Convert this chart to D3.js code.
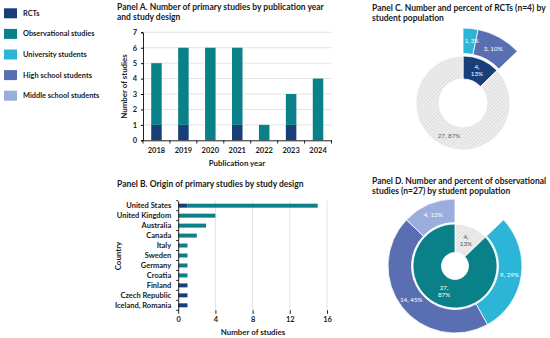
<!DOCTYPE html>
<html><head><meta charset="utf-8">
<script src="https://cdn.jsdelivr.net/npm/d3@7"></script>
<style>
body{margin:0;background:#fff}
svg{display:block}
text{font-family:Lato,"Open Sans",sans-serif}
</style>
</head><body>
<svg id="c" width="550" height="338"></svg>
<script>
// ---------- data ----------
const legendLabels = ["RCTs","Observational studies","University students","High school students","Middle school students"];
const years = ["2018","2019","2020","2021","2022","2023","2024"];
const rctByYear = [1,1,0,1,0,1,0];
const obsByYear = [4,5,6,5,1,2,4];
const yTicksA = [0,1,2,3,4,5,6,7];
const countries = ["United States","United Kingdom","Australia","Canada","Italy","Sweden","Germany","Croatia","Finland","Czech Republic","Iceland, Romania"];
const rctByCountry = [1,0,0,0,0,0,0,0,1,1,1];
const obsByCountry = [14,4,3,2,1,1,1,1,0,0,0];
const xTicksB = [0,4,8,12,16];
const totalStudies = 31;
// Panel C: inner ring (design), outer ring (RCT populations)
const cInnerKeys = ["RCTs","Observational"];
const cInnerVals = [4,27];
const cOuterKeys = ["University students","High school students","rest"];
const cOuterVals = [1,3,27];
// Panel D: inner ring (design), outer ring (observational populations)
const dInnerKeys = ["RCTs","Observational"];
const dInnerVals = [4,27];
const dOuterKeys = ["rest","University students","High school students","Middle school students"];
const dOuterVals = [4,9,14,4];

// ---------- styles ----------
const col = {
  "RCTs":"#183f7a",
  "Observational studies":"#0a8189",
  "University students":"#2cb5d6",
  "High school students":"#5a6fb2",
  "Middle school students":"#9baddd"
};
const ink = "#1a1a1a";

const svg = d3.select("#c");
const defs = svg.append("defs");
const pat = defs.append("pattern").attr("id","hatch").attr("patternUnits","userSpaceOnUse")
  .attr("width",2.6).attr("height",2.6).attr("patternTransform","rotate(45)");
pat.append("rect").attr("width",2.6).attr("height",2.6).attr("fill","#eeeeee");
pat.append("line").attr("x1",0).attr("y1",0).attr("x2",0).attr("y2",2.6).attr("stroke","#c6c6c6").attr("stroke-width",0.8);

// ---------- legend ----------
const lg = svg.append("g");
legendLabels.forEach((l,i)=>{
  const cy = 13.3 + i*20.6;
  lg.append("rect").attr("x",4).attr("y",cy-5).attr("width",13).attr("height",10).attr("fill",col[l]);
  lg.append("text").attr("x",23).attr("y",cy).attr("dy","0.35em").attr("font-size",7.4).attr("font-weight",700).attr("fill",ink).text(l);
});

function title(x,y,lines){
  const t = svg.append("text").attr("x",x).attr("y",y).attr("font-size",8.5).attr("font-weight",700).attr("fill",ink);
  lines.forEach((s,i)=>t.append("tspan").attr("x",x).attr("dy",i?10:0).text(s));
}
function styleTicks(sel){
  sel.selectAll("text").attr("font-size",7.5).attr("font-weight",700).attr("fill",ink).attr("font-family","Lato");
}

// ---------- Panel A ----------
title(117,9.8,["Panel A. Number of primary studies by publication year","and study design"]);
const xA = d3.scaleBand().domain(years).range([143,331.5]).paddingInner(0.61).paddingOuter(0.305);
const yA = d3.scaleLinear().domain([0,7]).range([140.3,32.3]);
const gA = svg.append("g");
gA.selectAll("line.grid").data(yTicksA.slice(1)).join("line")
  .attr("x1",143).attr("x2",331.5).attr("y1",d=>yA(d)).attr("y2",d=>yA(d))
  .attr("stroke","#dcdcdc").attr("stroke-width",0.8);
const dataA = years.map((y,i)=>({year:y,rct:rctByYear[i],obs:obsByYear[i]}));
const stackA = d3.stack().keys(["rct","obs"])(dataA);
gA.selectAll("g.s").data(stackA).join("g").attr("fill",d=>d.key==="rct"?col["RCTs"]:col["Observational studies"])
  .selectAll("rect").data(d=>d).join("rect")
  .attr("x",d=>xA(d.data.year)).attr("width",xA.bandwidth())
  .attr("y",d=>yA(d[1])).attr("height",d=>yA(d[0])-yA(d[1]));
const axA = gA.append("g").attr("transform","translate(143,0)")
  .call(d3.axisLeft(yA).tickValues(yTicksA).tickFormat(d3.format("d")).tickSize(2).tickPadding(4));
axA.select(".domain").attr("stroke","#222");
styleTicks(axA);
// x axis
const axXA = gA.append("g").attr("transform","translate(0,140.3)")
  .call(d3.axisBottom(xA).tickSize(0).tickPadding(7));
axXA.select(".domain").attr("stroke","#222");
styleTicks(axXA);
d3.range(years.length+1).forEach(i=>{
  const x = xA.range()[0] + i*xA.step();
  gA.append("line").attr("x1",x).attr("x2",x).attr("y1",140.3).attr("y2",143.5).attr("stroke","#222");
});
gA.append("text").attr("x",237).attr("y",165.5).attr("text-anchor","middle").attr("font-size",7.9).attr("font-weight",700).attr("fill",ink).text("Publication year");
gA.append("text").attr("transform","translate(127,86.5) rotate(-90)").attr("text-anchor","middle").attr("font-size",7.9).attr("font-weight",700).attr("fill",ink).text("Number of studies");

// ---------- Panel B ----------
title(117,186.7,["Panel B. Origin of primary studies by study design"]);
const yB = d3.scaleBand().domain(countries).range([200.7,310.3]).paddingInner(0.6).paddingOuter(0.3);
const xB = d3.scaleLinear().domain([0,16]).range([178.2,327]);
const gB = svg.append("g");
gB.selectAll("line.grid").data(xTicksB.slice(1)).join("line")
  .attr("x1",d=>xB(d)).attr("x2",d=>xB(d)).attr("y1",200.7).attr("y2",311)
  .attr("stroke","#dcdcdc").attr("stroke-width",0.8);
const dataB = countries.map((c,i)=>({c,rct:rctByCountry[i],obs:obsByCountry[i]}));
const stackB = d3.stack().keys(["rct","obs"])(dataB);
gB.selectAll("g.s").data(stackB).join("g").attr("fill",d=>d.key==="rct"?col["RCTs"]:col["Observational studies"])
  .selectAll("rect").data(d=>d).join("rect")
  .attr("y",d=>yB(d.data.c)).attr("height",yB.bandwidth())
  .attr("x",d=>xB(d[0])).attr("width",d=>xB(d[1])-xB(d[0]));
const axYB = gB.append("g").attr("transform","translate(178.2,0)")
  .call(d3.axisLeft(yB).tickSize(0).tickPadding(7));
axYB.select(".domain").attr("stroke","#222");
styleTicks(axYB);
d3.range(countries.length+1).forEach(i=>{
  const y = yB.range()[0] + i*yB.step();
  gB.append("line").attr("x1",176.2).attr("x2",178.2).attr("y1",y).attr("y2",y).attr("stroke","#222");
});
const axXB = gB.append("g").attr("transform","translate(0,310.3)")
  .call(d3.axisBottom(xB).tickValues(xTicksB).tickSize(3.5).tickPadding(3));
axXB.select(".domain").remove();
axXB.selectAll("line").attr("stroke","#222");
styleTicks(axXB);
gB.append("text").attr("x",253).attr("y",334.7).attr("text-anchor","middle").attr("font-size",7.9).attr("font-weight",700).attr("fill",ink).text("Number of studies");
gB.append("text").attr("transform","translate(120.5,256) rotate(-90)").attr("text-anchor","middle").attr("font-size",7.9).attr("font-weight",700).attr("fill",ink).text("Country");

// ---------- donut helper ----------
function pct(v){return Math.round(v/totalStudies*100)+"%";}
function ring(g, keys, vals, r0, r1, fills, labels){
  const pie = d3.pie().sort(null).value(d=>d.v);
  const arcs = pie(keys.map((k,i)=>({k,v:vals[i]})));
  const arc = d3.arc().innerRadius(r0).outerRadius(r1);
  g.selectAll(null).data(arcs).join("path")
    .attr("d",arc).attr("fill",d=>fills[d.data.k])
    .attr("stroke",d=>fills[d.data.k]==="none"?"none":"#fff").attr("stroke-width",0.8);
  arcs.forEach(a=>{
    const lab = labels[a.data.k];
    if(!lab) return;
    const [cx0,cy] = arc.centroid(a);
    const cx = cx0 + (lab.dx||0);
    const t = g.append("text").attr("x",cx).attr("y",cy).attr("text-anchor","middle")
      .attr("font-size",lab.size||6.3).attr("fill",lab.color);
    const lines = lab.twoLine ? [a.data.v+",", pct(a.data.v)] : [a.data.v+", "+pct(a.data.v)];
    lines.forEach((s,i)=>t.append("tspan").attr("x",cx)
      .attr("dy", i===0 ? (lines.length===2?"-0.25em":"0.35em") : "1.2em").text(s));
  });
}

// ---------- Panel C ----------
title(372,10.7,["Panel C. Number and percent of RCTs (n=4) by","student population"]);
const gC = svg.append("g").attr("transform","translate(463,103)");
ring(gC, cInnerKeys, cInnerVals, 24, 47,
  {"RCTs":col["RCTs"],"Observational":"url(#hatch)"},
  {"RCTs":{color:"#fff",twoLine:true},"Observational":{color:"#666",twoLine:false}});
ring(gC, cOuterKeys, cOuterVals, 49.5, 75,
  {"University students":col["University students"],"High school students":col["High school students"],"rest":"none"},
  {"University students":{color:"#fff",dx:2.5,size:5.8},"High school students":{color:"#fff"}});

// ---------- Panel D ----------
title(372,184.2,["Panel D. Number and percent of observational","studies (n=27) by student population"]);
const gD = svg.append("g").attr("transform","translate(455,266)");
ring(gD, dInnerKeys, dInnerVals, 13.5, 42,
  {"RCTs":"url(#hatch)","Observational":col["Observational studies"]},
  {"RCTs":{color:"#555",twoLine:true},"Observational":{color:"#fff",twoLine:true}});
ring(gD, dOuterKeys, dOuterVals, 43.5, 67,
  {"rest":"none","University students":col["University students"],"High school students":col["High school students"],"Middle school students":col["Middle school students"]},
  {"University students":{color:"#fff"},"High school students":{color:"#fff"},"Middle school students":{color:"#fff"}});
</script>
</body></html>
